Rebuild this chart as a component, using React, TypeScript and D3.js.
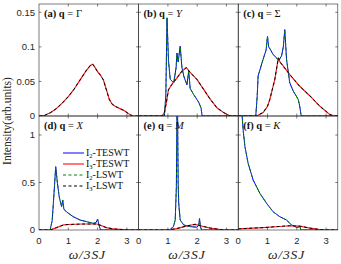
import * as d3 from "d3";

// omega / 3SJ, intensity pairs
const gammaI2: [number, number][] = [];
const gammaI3: [number, number][] = [
  [0, 0], [0.2, 0.001], [0.4, 0.005], [0.6, 0.011], [0.8, 0.019], [1.0, 0.028],
  [1.2, 0.039], [1.4, 0.052], [1.6, 0.065], [1.75, 0.073], [1.83, 0.075], [1.9, 0.071],
  [2.0, 0.064], [2.1, 0.059], [2.2, 0.052], [2.3, 0.038], [2.4, 0.024], [2.5, 0.017],
  [2.6, 0.014], [2.7, 0.012], [2.8, 0.01], [2.9, 0.008], [3.0, 0.005], [3.1, 0.002],
  [3.2, 0], [3.4, 0],
];

const yI2: [number, number][] = [
  [0, 0], [0.88, 0], [0.93, 0.03], [0.97, 0.142], [1.02, 0.08], [1.08, 0.053],
  [1.2, 0.048], [1.28, 0.07], [1.31, 0.091], [1.35, 0.078], [1.42, 0.101], [1.48, 0.07],
  [1.54, 0.058], [1.65, 0.045], [1.71, 0.065], [1.76, 0.04], [1.88, 0.031], [2.05, 0.02],
  [2.13, 0.012], [2.17, 0], [3.4, 0],
];
const yI3: [number, number][] = [
  [0, 0], [0.8, 0], [0.88, 0.005], [0.95, 0.02], [1.02, 0.038], [1.14, 0.046],
  [1.31, 0.055], [1.48, 0.065], [1.63, 0.07], [1.76, 0.063], [1.99, 0.053], [2.22, 0.0385],
  [2.45, 0.024], [2.67, 0.012], [2.9, 0.005], [3.07, 0.001], [3.2, 0], [3.4, 0],
];

const sigmaI2: [number, number][] = [
  [0, 0], [0.6, 0], [0.65, 0.03], [0.68, 0.058], [0.85, 0.082], [0.95, 0.095],
  [1.0, 0.115], [1.04, 0.1], [1.1, 0.096], [1.19, 0.089], [1.31, 0.084], [1.38, 0.08],
  [1.48, 0.087], [1.54, 0.1], [1.59, 0.125], [1.65, 0.082], [1.76, 0.048], [1.88, 0.036],
  [2.05, 0.024], [2.1, 0.014], [2.15, 0], [3.4, 0],
];
const sigmaI3: [number, number][] = [
  [0, 0], [0.63, 0], [0.85, 0.005], [1.0, 0.014], [1.08, 0.024], [1.25, 0.053],
  [1.37, 0.084], [1.43, 0.078], [1.54, 0.072], [1.76, 0.06], [2.1, 0.043], [2.45, 0.029],
  [2.79, 0.014], [3.13, 0.002], [3.3, 0], [3.4, 0],
];

const xI2: [number, number][] = [
  [0, 0], [0.38, 0], [0.45, 0.1], [0.49, 0.28], [0.52, 0.42], [0.57, 0.667],
  [0.63, 0.49], [0.69, 0.35], [0.77, 0.245], [0.81, 0.316], [0.85, 0.22], [0.94, 0.19],
  [1.17, 0.14], [1.4, 0.105], [1.63, 0.087], [1.85, 0.07], [1.95, 0.08], [2.0, 0.115],
  [2.04, 0.06], [2.1, 0], [3.4, 0],
];
const xI3: [number, number][] = [
  [0, 0], [0.38, 0], [0.6, 0.025], [0.83, 0.053], [1.0, 0.058], [1.5, 0.063],
  [1.97, 0.063], [2.1, 0.05], [2.3, 0.025], [2.53, 0.012], [2.76, 0.006], [3.0, 0.001],
  [3.1, 0], [3.4, 0],
];

const mI2: [number, number][] = [
  [0, 0], [1.05, 0], [1.19, 0.035], [1.25, 0.105], [1.29, 0.456], [1.32, 1.65],
  [1.35, 0.5], [1.37, 0.28], [1.42, 0.105], [1.54, 0.053], [1.76, 0.035], [1.99, 0.03],
  [2.05, 0.05], [2.08, 0.12], [2.11, 0.035], [2.15, 0], [3.4, 0],
];
const mI3: [number, number][] = [
  [0, 0], [1.0, 0], [1.3, 0.015], [1.55, 0.035], [1.76, 0.05], [1.93, 0.06],
  [2.1, 0.045], [2.45, 0.02], [2.8, 0.005], [3.0, 0], [3.4, 0],
];

const kI2: [number, number][] = [
  [0.06, 2.2], [0.11, 1.3], [0.17, 1.05], [0.23, 0.877], [0.34, 0.7], [0.51, 0.526],
  [0.74, 0.386], [0.97, 0.28], [1.19, 0.193], [1.42, 0.14], [1.65, 0.105], [1.82, 0.053],
  [1.99, 0.028], [2.06, 0.03], [2.1, 0.04], [2.13, 0.01], [2.15, 0], [3.4, 0],
];
const kI3: [number, number][] = [
  [0, 0.012], [0.85, 0.025], [1.4, 0.037], [1.76, 0.045], [2.1, 0.04], [2.45, 0.02],
  [2.75, 0.006], [3.0, 0], [3.4, 0],
];

const legendLabels = [
  { sub: "2", rest: "-TESWT" },
  { sub: "3", rest: "-TESWT" },
  { sub: "2", rest: "-LSWT" },
  { sub: "3", rest: "-LSWT" },
];
const topTicks = [0, 0.05, 0.1, 0.15];
const bottomTicks = [0, 0.5, 1];
const xTicks = [0, 1, 2, 3];

const panels = [
  { key: "a", q: "Γ", italic: false, row: 0, col: 0, i2: gammaI2, i3: gammaI3 },
  { key: "b", q: "Y", italic: true, row: 0, col: 1, i2: yI2, i3: yI3 },
  { key: "c", q: "Σ", italic: false, row: 0, col: 2, i2: sigmaI2, i3: sigmaI3 },
  { key: "d", q: "X", italic: true, row: 1, col: 0, i2: xI2, i3: xI3 },
  { key: "e", q: "M", italic: true, row: 1, col: 1, i2: mI2, i3: mI3 },
  { key: "f", q: "K", italic: true, row: 1, col: 2, i2: kI2, i3: kI3 },
];

const colLeft = [39, 138.6, 238.2];
const panelW = 99.6;
const rowTop = [4, 116];
const rowBottom = [116, 230];
const rowMax = [0.162, 1.2];

const styles = [
  { color: "#0000ff", width: 1, dash: undefined },
  { color: "#ff2020", width: 1.2, dash: undefined },
  { color: "#008000", width: 1, dash: "3,2.5" },
  { color: "#000000", width: 1, dash: "3,2.5" },
];

const axisColor = "#262626";
const serif = "'Liberation Serif', 'Times New Roman', serif";
const sans = "'Liberation Sans', Arial, sans-serif";

const Panel = ({ p }: { p: (typeof panels)[number] }) => {
  const x0 = colLeft[p.col];
  const x = d3.scaleLinear().domain([0, 3.4]).range([x0, x0 + panelW]);
  const y = d3.scaleLinear().domain([0, rowMax[p.row]]).range([rowBottom[p.row], rowTop[p.row]]);
  const line = d3.line<[number, number]>().x(d => x(d[0])).y(d => y(d[1]));
  const yt = p.row === 0 ? topTicks : bottomTicks;
  const series = [p.i2, p.i3, p.i2, p.i3];
  const top = rowTop[p.row];
  const bottom = rowBottom[p.row];
  const right = x0 + panelW;
  const tl = 2.5;

  return (
    <g>
      <defs>
        <clipPath id={`clip-${p.key}`}>
          <rect x={x0} y={top} width={panelW} height={bottom - top} />
        </clipPath>
      </defs>
      <g clipPath={`url(#clip-${p.key})`}>
        {series.map((s, i) =>
          s.length ? (
            <path
              key={i}
              d={line(s) ?? ""}
              fill="none"
              stroke={styles[i].color}
              strokeWidth={styles[i].width}
              strokeDasharray={styles[i].dash}
              strokeLinejoin="round"
            />
          ) : null
        )}
      </g>
      <rect x={x0} y={top} width={panelW} height={bottom - top} fill="none" stroke={axisColor} strokeWidth={0.6} />
      {xTicks.filter(t => t > 0).map(t => (
        <g key={`xt${t}`} stroke={axisColor} strokeWidth={0.6}>
          <line x1={x(t)} x2={x(t)} y1={bottom} y2={bottom - tl} />
          <line x1={x(t)} x2={x(t)} y1={top} y2={top + tl} />
        </g>
      ))}
      {yt.filter(t => t > 0).map(t => (
        <g key={`yt${t}`} stroke={axisColor} strokeWidth={0.6}>
          <line x1={x0} x2={x0 + tl} y1={y(t)} y2={y(t)} />
          <line x1={right} x2={right - tl} y1={y(t)} y2={y(t)} />
        </g>
      ))}
      {p.col === 0 &&
        yt.map(t => (
          <text key={`yl${t}`} x={x0 - 4} y={y(t) + 3.3} textAnchor="end" fontFamily={sans} fontSize={9.5} fill={axisColor}>
            {String(t)}
          </text>
        ))}
      {p.row === 1 &&
        xTicks.map(t => (
          <text key={`xl${t}`} x={x(t)} y={243.5} textAnchor="middle" fontFamily={sans} fontSize={9.5} fill={axisColor}>
            {String(t)}
          </text>
        ))}
      {p.row === 1 && (
        <text x={x(1.65)} y={259} textAnchor="middle" fontFamily={serif} fontSize={13.5} fontStyle="italic" fill="#222" letterSpacing={0.9}>
          ω/3SJ
        </text>
      )}
      <text x={x0 + 5} y={top + 13} fontFamily={serif} fontSize={10.5} fill="#111">
        <tspan fontWeight="bold">({p.key}) q</tspan>
        <tspan> = </tspan>
        <tspan fontStyle={p.italic ? "italic" : "normal"}>{p.q}</tspan>
      </text>
    </g>
  );
};

const Legend = () => {
  const lx0 = 63;
  const lx1 = 84;
  const ys = [153, 164, 175, 186];
  return (
    <g>
      {legendLabels.map((l, i) => (
        <g key={i}>
          <line x1={lx0} x2={lx1} y1={ys[i]} y2={ys[i]} stroke={styles[i].color} strokeWidth={styles[i].width} strokeDasharray={styles[i].dash} />
          <text x={lx1 + 2} y={ys[i] + 3.3} fontFamily={serif} fontSize={10} fill="#111">
            I<tspan fontSize={6.5} dy={2}>{l.sub}</tspan>
            <tspan dy={-2}>{l.rest}</tspan>
          </text>
        </g>
      ))}
    </g>
  );
};

export default function App() {
  return (
    <svg width={341} height={264} style={{ position: "absolute", left: 0, top: 0, background: "#fff" }}>
      <rect width={341} height={264} fill="#fff" />
      {panels.map(p => (
        <Panel key={p.key} p={p} />
      ))}
      <Legend />
      <text
        transform="translate(11,121) rotate(-90)"
        textAnchor="middle"
        fontFamily={serif}
        fontSize={11.5}
        fill="#222"
      >
        Intensity(arb.units)
      </text>
    </svg>
  );
}
